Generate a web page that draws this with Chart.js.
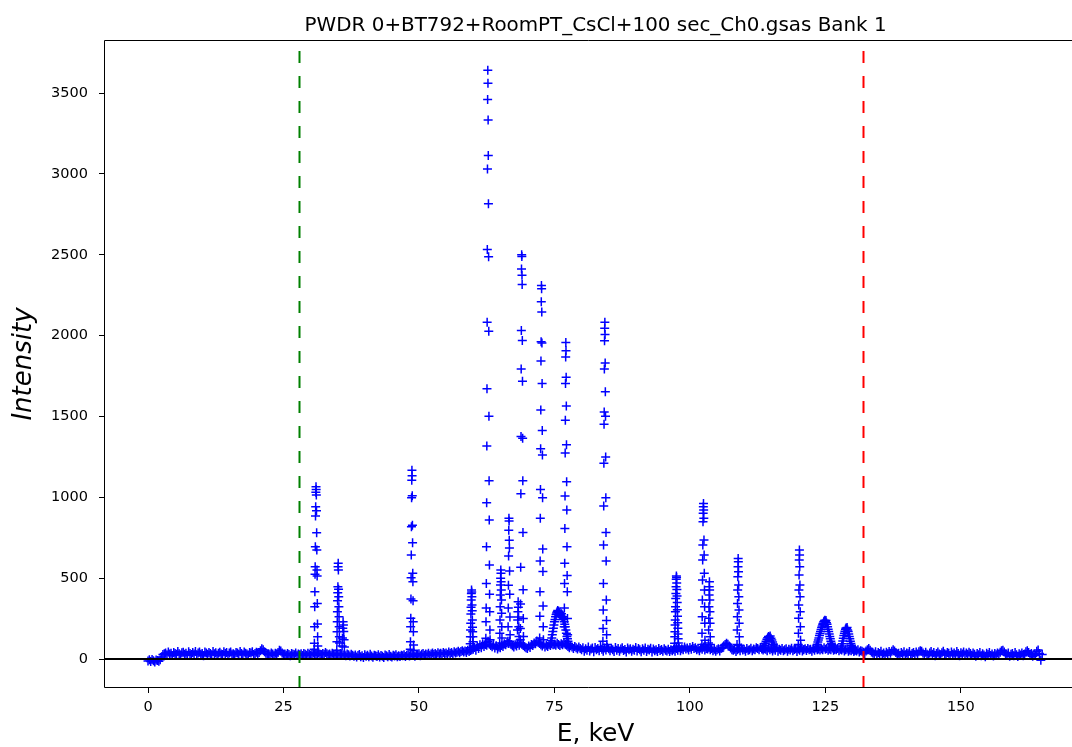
<!DOCTYPE html>
<html><head><meta charset="utf-8">
<script src="https://cdn.jsdelivr.net/npm/chart.js@4.4.1/dist/chart.umd.min.js"></script>
<style>html,body{margin:0;padding:0;background:#fff;}canvas{display:block;}</style>
</head><body>
<canvas id="c" width="1072" height="747"></canvas>
<script>
// ---------- text ----------
const chartTitle = 'PWDR 0+BT792+RoomPT_CsCl+100 sec_Ch0.gsas Bank 1';
const xLabel = 'E, keV';
const yLabel = 'Intensity';
// ---------- axes ----------
const xTicks = [0, 25, 50, 75, 100, 125, 150];
const yTicks = [0, 500, 1000, 1500, 2000, 2500, 3000, 3500];
const xRange = [-8.12, 170.5];     // visible part (figure is cut at the right)
const xFullMax = 173.3;            // right end of the full axes (off the picture)
const yRange = [-179, 3828];
const limitLow = 27.9;   // green dashed
const limitHigh = 132.0; // red dashed
// ---------- background counts (0.25 keV channels) ----------
const bgStep = 0.25;
const bgStarts = [0, 28, 60, 80, 132];
const bgA = [-12,-5,-15,-3,-10,-18,-6,-9,-14,-4,
 12,28,33,
 38,27,44,31,36,22,41,34,29,46,33,25,39,42,30,36,24,45,35,28,
 40,32,47,26,37,43,30,35,21,44,38,29,41,34,27,46,33,39,24,36,
 42,31,28,45,35,40,23,37,44,30,33,26,41,38,29,47,34,27,43,36,
 32,25,40,37,45,28,35,42,
 34,40,52,63,58,45,36,30,
 33,27,38,31,24,36,29,
 40,55,50,37,28,
 32,24,35,28,21,34,30,26,37,23,31];
const bgB = [27,33,22,35,29,24,36,30,25,34,38,28,32,23,37,30,26,35,29,40,
 33,27,31,24,36,29,22,34,30,26,35,31,24,28,21,32,26,19,29,23,
 18,25,12,22,28,15,20,10,26,17,23,14,30,19,11,24,21,16,27,13,
 22,18,9,25,20,15,28,17,12,23,19,26,14,21,16,24,
 20,27,16,24,30,19,26,22,31,18,28,25,33,21,29,35,24,31,27,36,
 23,32,38,28,34,26,39,31,36,29,41,33,38,30,43,35,40,32,45,37,
 42,48,39,46,52,44,50,41,55,47,53,58];
const bgC = [60,72,55,80,66,88,70,95,78,102,85,110,92,84,76,90,68,82,62,75,
 70,84,77,95,88,105,96,110,90,82,74,88,80,96,85,100,92,84,76,70,
 66,80,72,90,84,100,95,112,104,96,88,80,92,75,85,78,90,84,95,88,
 92,85,98,90,84,95,88,100,92,85,78,70,82,74,66,78,70,62,74,65];
const bgD = [58,70,48,64,55,75,50,62,68,45,72,57,66,52,78,60,49,69,56,73,
 63,51,67,58,46,71,55,65,49,62,70,53,59,44,68,57,64,48,61,55,
 72,50,66,58,45,63,54,69,47,60,56,67,43,62,51,58,46,65,53,59,
 48,64,55,50,61,46,57,52,
 60,48,66,55,70,52,63,58,75,62,68,56,72,60,78,65,70,58,64,52,
 68,60,74,56,66,62,70,58,65,52,60,48,57,63,50,66,
 70,82,90,98,92,80,68,58,
 55,61,47,58,64,52,69,56,60,49,65,54,58,67,51,62,
 57,70,66,58,72,62,56,64,
 60,52,68,58,64,50,62,55,70,48,60,54,66,51,58,63,
 49,61,56,67,52,59,64,47,62,55,69,50,58,63,53,66,57,60,48,64,55,68,58,62,
 56,64,58,70,60,66,55,62,58,68,54,63,57,66,52,60,56,64,50,58,62,48,56,52,60,46,54,50,58,44,52,48];
const bgE = [42,35,50,58,66,55,44,38,30,45,27,40,34,48,29,38,24,42,33,46,
 36,48,58,50,40,28,36,22,40,31,45,26,38,33,47,24,35,41,28,44,
 32,45,52,48,38,26,42,30,24,37,46,29,40,21,35,44,31,27,39,48,
 33,25,41,36,22,44,30,38,27,46,34,20,39,31,43,26,37,29,42,35,
 23,38,30,18,35,27,41,21,33,25,15,36,28,40,22,31,19,34,26,38,
 30,42,52,55,44,32,24,37,18,29,35,21,40,27,16,33,25,38,20,31,
 45,52,40,26,34,18,30,22,48,56,35,-8,28];
// ---------- peaks (counts per channel, in energy order) ----------
const pk31 = [60,97,200,323,416,525,571,694,884,942,1032,1065,1049,1014,917,781,674,550,513,344,216,138,80,50];
const pk35 = [55,107,169,231,292,361,410,447,571,592,550,431,385,323,262,200,138,100];
const pk36 = [80,130,190,230,210,170,120,75];
const pk49 = [60,107,200,252,371,503,643,818,997,1106,1168,1133,1010,828,719,530,478,361,231,169,87,55];
const pk60 = [70,95,138,180,221,278,320,365,406,427,415,385,334,299,241,196,169,138,107,80];
const pk63 = [90,128,231,315,467,694,967,1318,1671,2083,2533,3030,3460,3641,3561,3333,3114,2815,2487,2027,1502,1103,860,581,400,293,179,120];
const pk65 = [100,159,241,323,396,458,499,550,530,478,427,365,283,200,130];
const pk67 = [110,200,315,457,637,797,870,853,735,686,544,400,260,150];
const pk68 = [100,179,241,292,354,320,260,200,140];
const pk69 = [120,189,340,567,1022,1376,1793,2032,2412,2500,2490,2374,2316,1970,1718,1365,1103,782,428,250,140];
const pk73 = [130,265,416,606,871,1048,1300,1540,1843,1962,2210,2310,2290,2146,1955,1704,1414,1262,997,681,542,328,200,120];
const pk76 = [100,115,130,150,170,190,210,230,245,262,275,285,292,300,288,296,280,290,275,268,280,258,262,245,250,230,215,200,180,160,140,125,110,95,85];
const pk77 = [200,315,467,593,808,1009,1274,1477,1704,1868,1957,1906,1742,1565,1325,1097,921,694,517,416,250,150];
const pk84 = [110,189,303,467,706,946,1211,1452,1527,1793,1969,2045,2083,2007,1830,1653,1502,1250,997,782,606,365,239,150,90];
const pk98 = [75,97,138,169,210,241,292,323,375,406,447,493,513,505,470,430,390,350,305,265,225,190,155,125,100,80];
const pk102 = [90,159,262,365,489,612,705,849,901,942,962,921,870,736,643,530,427,323,221,117,80];
const pk104 = [100,179,252,323,396,447,478,427,365,292,221,138,90];
const pk109 = [90,179,262,344,427,509,571,622,601,540,458,385,303,221,138,85];
const pk114 = [65,75,85,98,110,122,132,140,135,142,128,118,105,92,80,70];
const pk120 = [90,159,252,334,427,519,612,674,643,571,458,385,292,200,117,80];
const pk125 = [70,80,92,105,118,130,145,158,170,182,195,205,215,222,230,236,240,232,238,225,215,200,185,170,155,140,125,110,98,88,80,72,66,62,60];
const pk129 = [65,80,95,112,128,145,160,172,185,192,188,195,180,170,155,140,125,110,96,85,75,68,62,58,55];
const peakCentres = [31.0, 35.1, 36.0, 48.7, 59.7, 62.7, 65.1, 66.6, 68.3, 68.95, 72.6, 75.6, 77.1, 84.3, 97.5, 102.5, 103.6, 108.9, 114.8, 120.2, 124.9, 129.0];
const peakSteps   = [0.03, 0.03, 0.06, 0.03, 0.03, 0.03, 0.03, 0.03, 0.04, 0.03, 0.03, 0.1, 0.03, 0.03, 0.03, 0.03, 0.03, 0.03, 0.15, 0.03, 0.1, 0.1];
const peakValues  = [pk31, pk35, pk36, pk49, pk60, pk63, pk65, pk67, pk68, pk69, pk73, pk76, pk77, pk84, pk98, pk102, pk104, pk109, pk114, pk120, pk125, pk129];

// ---------- assemble points ----------
const pts = [];
[bgA, bgB, bgC, bgD, bgE].forEach((arr, k) => {
  arr.forEach((v, i) => pts.push({x: bgStarts[k] + i * bgStep, y: v}));
});
peakValues.forEach((arr, k) => {
  const top = arr.indexOf(Math.max(...arr));
  arr.forEach((v, i) => pts.push({x: peakCentres[k] + (i - top) * peakSteps[k], y: v}));
});

const FONT = '"DejaVu Sans", "Liberation Sans", sans-serif';

const overlay = {
  id: 'overlay',
  afterDatasetsDraw(chart) {
    const {ctx, chartArea: a, scales: {x, y}} = chart;
    ctx.save();
    ctx.beginPath(); ctx.rect(a.left, a.top, a.right - a.left, a.bottom - a.top); ctx.clip();
    const y0 = Math.round(y.getPixelForValue(0));
    ctx.strokeStyle = '#000'; ctx.lineWidth = 2;
    ctx.beginPath(); ctx.moveTo(a.left, y0); ctx.lineTo(a.right, y0); ctx.stroke();
    [[limitLow, '#008000'], [limitHigh, '#ff0000']].forEach(([v, c]) => {
      const px = Math.round(x.getPixelForValue(v)) + 0.5;
      ctx.strokeStyle = c; ctx.lineWidth = 2; ctx.setLineDash([12, 13]);
      ctx.beginPath(); ctx.moveTo(px, a.bottom); ctx.lineTo(px, a.top); ctx.stroke();
    });
    ctx.restore();
    ctx.save();
    ctx.strokeStyle = '#000'; ctx.lineWidth = 1;
    ctx.beginPath();
    ctx.moveTo(a.right, a.top + 0.5); ctx.lineTo(a.left + 0.5, a.top + 0.5);
    ctx.lineTo(a.left + 0.5, a.bottom - 0.5); ctx.lineTo(a.right, a.bottom - 0.5);
    ctx.stroke();
    // centre of the full axes (which runs past the right edge of the picture)
    const cx = (a.left + x.getPixelForValue(xFullMax)) / 2;
    ctx.fillStyle = '#000';
    ctx.textAlign = 'center';
    ctx.textBaseline = 'alphabetic';
    ctx.font = '19.9px ' + FONT;
    ctx.fillText(chartTitle, cx, 30.5);
    ctx.font = '25px ' + FONT;
    ctx.fillText(xLabel, cx, 741);
    ctx.restore();
  }
};

new Chart(document.getElementById('c'), {
  type: 'scatter',
  data: {
    datasets: [{
      data: pts,
      pointStyle: 'cross',
      pointRadius: 4.5,
      pointBorderWidth: 1.5,
      borderColor: '#0000ff',
      backgroundColor: '#0000ff',
      showLine: false
    }]
  },
  options: {
    responsive: false,
    devicePixelRatio: 1,
    animation: false,
    layout: {autoPadding: false, padding: {left: 0, right: 0, top: 40, bottom: 0}},
    plugins: {legend: {display: false}, tooltip: {enabled: false}, title: {display: false}},
    scales: {
      x: {
        type: 'linear', min: xRange[0], max: xRange[1],
        afterBuildTicks: s => { s.ticks = xTicks.map(v => ({value: v})); },
        afterFit: s => { s.height = 59; s.paddingLeft = 0; s.paddingRight = 0; },
        ticks: {color: '#000', font: {family: FONT, size: 14.5}, padding: 6, maxRotation: 0, callback: v => String(v)},
        grid: {display: true, drawOnChartArea: false, drawTicks: true, tickLength: 5, tickWidth: 1, tickColor: '#000'},
        border: {display: false},
        title: {display: false}
      },
      y: {
        type: 'linear', min: yRange[0], max: yRange[1],
        afterBuildTicks: s => { s.ticks = yTicks.map(v => ({value: v})); },
        afterFit: s => { s.width = 104; s.paddingTop = 0; s.paddingBottom = 0; },
        ticks: {color: '#000', font: {family: FONT, size: 14.5}, padding: 11, callback: v => String(v)},
        grid: {display: true, drawOnChartArea: false, drawTicks: true, tickLength: 5, tickWidth: 1, tickColor: '#000'},
        border: {display: false},
        title: {display: true, text: yLabel, color: '#000', font: {family: FONT, size: 26, style: 'italic'}, padding: {top: 9, bottom: 0}}
      }
    }
  },
  plugins: [overlay]
});
</script>
</body></html>
